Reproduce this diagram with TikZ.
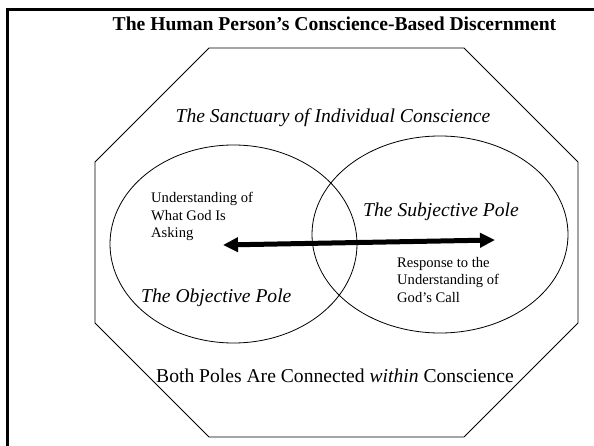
\documentclass[tikz,border=0pt]{standalone}
\usepackage{fontspec}
\setmainfont{Liberation Serif}
\usetikzlibrary{arrows.meta}
\begin{document}
\begin{tikzpicture}[x=1pt,y=-1pt,
  thinline/.style={line width=0.8pt},
  bigtext/.style={font=\fontsize{19.6}{23}\selectfont, inner sep=0pt},
  bigital/.style={font=\fontsize{19.6}{23}\selectfont\itshape, inner sep=0pt},
  smalltext/.style={font=\fontsize{14.6}{17.5}\selectfont, inner sep=0pt, align=left}
]
\useasboundingbox (0,0) rectangle (594,446);
\draw[line width=3pt] (7.5,446) -- (7.5,9.5) -- (594,9.5);
\node[font=\fontsize{19.6}{23}\selectfont\bfseries, inner sep=0pt, anchor=base] (title) at (334.5,31) {The Human Person’s Conscience-Based Discernment};
\draw[thinline] (209,48) -- (464,48) -- (578,162) -- (578,323) -- (464,437) -- (209,437) -- (95,323) -- (95,162) -- cycle;
\node[bigital, anchor=base] (sanct) at (333,123) {The Sanctuary of Individual Conscience};
\draw[thinline] (233.5,244) ellipse [x radius=123.5pt, y radius=99pt];
\draw[thinline] (440,234.5) ellipse [x radius=128pt, y radius=98.5pt];
\node[smalltext, anchor=base west] (underst) at (151,238) {Understanding of\\What God Is\\Asking};
\node[smalltext, anchor=base west] (resp) at (397,302) {Response to the\\Understanding of\\God’s Call};
\node[bigital, anchor=base west] (subj) at (363,217) {The Subjective Pole};
\node[bigital, anchor=base west] (obj) at (141,302) {The Objective Pole};
\node[bigtext, anchor=base west] (both) at (156,382) {Both Poles Are Connected \textit{within} Conscience};
\coordinate (al) at (223,245);
\coordinate (ar) at (495,240);
\draw[line width=5pt, {Triangle[length=15pt,width=14pt]}-{Triangle[length=15pt,width=14pt]}] (al) -- (ar);
\end{tikzpicture}
\end{document}
